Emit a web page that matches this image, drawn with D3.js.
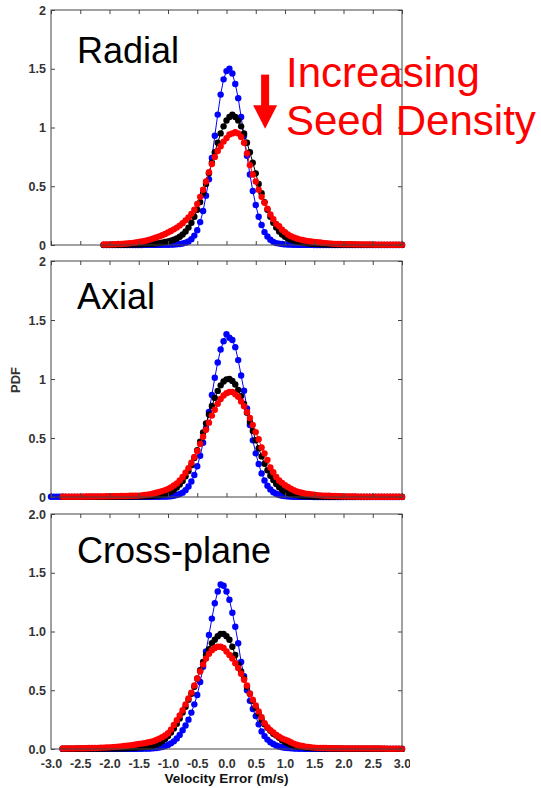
<!DOCTYPE html>
<html><head><meta charset="utf-8">
<script src="https://cdn.jsdelivr.net/npm/d3@7"></script>
<style>body{margin:0;background:#fff} svg{display:block}</style>
</head><body>
<svg id="chart" width="541" height="788"></svg>
<script>
// ---------- DATA ----------
const velocityBins = [
-3.00,-2.95,-2.90,-2.85,-2.80,-2.75,-2.70,-2.65,-2.60,-2.55,
-2.50,-2.45,-2.40,-2.35,-2.30,-2.25,-2.20,-2.15,-2.10,-2.05,
-2.00,-1.95,-1.90,-1.85,-1.80,-1.75,-1.70,-1.65,-1.60,-1.55,
-1.50,-1.45,-1.40,-1.35,-1.30,-1.25,-1.20,-1.15,-1.10,-1.05,
-1.00,-0.95,-0.90,-0.85,-0.80,-0.75,-0.70,-0.65,-0.60,-0.55,
-0.50,-0.45,-0.40,-0.35,-0.30,-0.25,-0.20,-0.15,-0.10,-0.05,
0.00,0.05,0.10,0.15,0.20,0.25,0.30,0.35,0.40,0.45,
0.50,0.55,0.60,0.65,0.70,0.75,0.80,0.85,0.90,0.95,
1.00,1.05,1.10,1.15,1.20,1.25,1.30,1.35,1.40,1.45,
1.50,1.55,1.60,1.65,1.70,1.75,1.80,1.85,1.90,1.95,
2.00,2.05,2.10,2.15,2.20,2.25,2.30,2.35,2.40,2.45,
2.50,2.55,2.60,2.65,2.70,2.75,2.80,2.85,2.90,2.95,
3.00];

const xTickValues = [-3,-2.5,-2,-1.5,-1,-0.5,0,0.5,1,1.5,2,2.5,3];
const xTickLabels = ["-3.0","-2.5","-2.0","-1.5","-1.0","-0.5","0.0","0.5","1.0","1.5","2.0","2.5","3.0"];
const yTickValues = [0,0.5,1,1.5,2];
const yTickLabelsShort = ["0","0.5","1","1.5","2"];
const yTickLabelsFixed = ["0.0","0.5","1.0","1.5","2.0"];
const panelTitles = ["Radial","Axial","Cross-plane"];
const yAxisTitle = "PDF";
const xAxisTitle = "Velocity Error (m/s)";
const annotationLines = ["Increasing","Seed Density"];

// Radial
const radialBlue = [
null,null,null,null,null,null,null,null,null,null,
null,null,null,null,null,null,null,null,0,0,
0,0,0,0,0,0,0,0,0,0,
0,0,0.001,0.001,0.001,0.001,0.001,0.001,0.002,0.002,
0.002,0.003,0.004,0.006,0.009,0.013,0.02,0.03,0.05,0.08,
0.125,0.195,0.29,0.42,0.56,0.74,0.93,1.11,1.28,1.41,
1.48,1.50,1.46,1.37,1.25,1.09,0.93,0.76,0.60,0.46,
0.34,0.24,0.17,0.11,0.072,0.045,0.027,0.016,0.012,0.008,
0.005,0.004,0.003,0.002,0.002,0.001,0.001,0.001,0.001,0.001,
0,0,0,0,0,0,0,0,0,0,
0,0,0,0,0,0,0,0,0,0,
0,0,0,0,0,0,0,0,0,0,
0];
const radialBlack = [
null,null,null,null,null,null,null,null,null,null,
null,null,null,null,null,null,null,null,0.001,0.001,
0.001,0.001,0.001,0.002,0.002,0.002,0.003,0.003,0.004,0.004,
0.005,0.006,0.008,0.009,0.01,0.011,0.013,0.016,0.02,0.025,
0.03,0.037,0.045,0.055,0.07,0.09,0.115,0.148,0.19,0.24,
0.30,0.365,0.44,0.52,0.61,0.70,0.79,0.87,0.95,1.01,
1.06,1.09,1.11,1.09,1.06,1.01,0.95,0.87,0.79,0.70,
0.61,0.52,0.44,0.365,0.30,0.24,0.19,0.148,0.115,0.09,
0.07,0.055,0.045,0.037,0.03,0.025,0.02,0.016,0.013,0.011,
0.009,0.008,0.006,0.005,0.005,0.004,0.004,0.003,0.003,0.003,
0.002,0.002,0.002,0.002,0.002,0.002,0.001,0.001,0.001,0.001,
0.001,0.001,0.001,0.001,0.001,0.001,0.001,0.001,0.001,0.001,
0.001];
const radialRed = [
null,null,null,null,null,null,null,null,null,null,
null,null,null,null,null,null,null,null,0.004,0.004,
0.005,0.006,0.007,0.008,0.009,0.011,0.013,0.015,0.018,0.022,
0.026,0.03,0.035,0.041,0.048,0.056,0.064,0.073,0.083,0.094,
0.106,0.119,0.133,0.148,0.165,0.185,0.21,0.235,0.265,0.30,
0.35,0.41,0.47,0.54,0.62,0.69,0.75,0.80,0.84,0.88,
0.91,0.94,0.95,0.96,0.95,0.92,0.87,0.78,0.68,0.60,
0.54,0.47,0.41,0.36,0.31,0.26,0.22,0.18,0.16,0.13,
0.11,0.09,0.075,0.065,0.055,0.048,0.042,0.037,0.033,0.03,
0.027,0.024,0.021,0.018,0.016,0.014,0.012,0.010,0.009,0.008,
0.007,0.007,0.006,0.006,0.005,0.005,0.005,0.004,0.004,0.004,
0.004,0.003,0.003,0.003,0.003,0.003,0.002,0.002,0.002,0.002,
0.002];

// Axial
const axialBlue = [
0.002,0.002,0.002,0.002,0.002,0.001,0.001,0.001,0.001,0.001,
0.001,0.001,0.001,0.001,0.001,0.001,0.001,0.001,0.001,0.001,
0.001,0.001,0.001,0.001,0.001,0.001,0.001,0.001,0.001,0.001,
0.001,0.001,0.001,0.001,0.001,0.002,0.002,0.002,0.003,0.003,
0.004,0.006,0.01,0.016,0.025,0.037,0.058,0.089,0.131,0.187,
0.26,0.35,0.46,0.585,0.72,0.865,1.01,1.14,1.25,1.32,
1.38,1.35,1.33,1.27,1.16,1.03,0.90,0.75,0.61,0.48,
0.37,0.28,0.20,0.14,0.095,0.064,0.04,0.027,0.017,0.011,
0.007,0.005,0.003,0.002,0.002,0.001,0.001,0.001,0.001,0.001,
0,0,0,0,0,0,0,0,0,0,
0,0,0,0,0,0,0,0,0,0,
0,0,0,0,0,0,0,0,0,0,
0];
const axialBlack = [
null,null,null,null,0.001,0.001,0.001,0.001,0.001,0.001,
0.001,0.001,0.001,0.001,0.001,0.001,0.001,0.001,0.001,0.001,
0.002,0.002,0.002,0.002,0.002,0.003,0.003,0.003,0.004,0.004,
0.005,0.005,0.006,0.007,0.008,0.01,0.012,0.015,0.02,0.025,
0.035,0.045,0.06,0.08,0.105,0.135,0.175,0.22,0.27,0.33,
0.397,0.469,0.546,0.624,0.699,0.772,0.84,0.899,0.946,0.979,
0.997,1.0,0.984,0.954,0.908,0.855,0.788,0.715,0.637,0.56,
0.481,0.413,0.344,0.282,0.227,0.18,0.144,0.11,0.083,0.062,
0.045,0.035,0.027,0.021,0.016,0.012,0.009,0.007,0.006,0.005,
0.004,0.004,0.003,0.003,0.003,0.002,0.002,0.002,0.002,0.002,
0.001,0.001,0.001,0.001,0.001,0.001,0.001,0.001,0.001,0.001,
0.001,0.001,0.001,0.001,0.001,0.001,0.001,0.001,0.001,0.001,
0.001];
const axialRed = [
null,null,null,null,0.003,0.003,0.003,0.003,0.003,0.003,
0.003,0.003,0.004,0.004,0.004,0.004,0.005,0.005,0.005,0.006,
0.006,0.006,0.007,0.007,0.008,0.008,0.009,0.010,0.011,0.011,
0.012,0.014,0.017,0.02,0.024,0.03,0.036,0.042,0.05,0.058,
0.068,0.08,0.097,0.115,0.14,0.17,0.205,0.245,0.29,0.34,
0.39,0.45,0.51,0.57,0.63,0.69,0.74,0.79,0.83,0.86,
0.88,0.89,0.89,0.87,0.85,0.81,0.77,0.72,0.67,0.61,
0.55,0.49,0.42,0.37,0.315,0.25,0.21,0.17,0.14,0.12,
0.10,0.085,0.07,0.057,0.047,0.04,0.034,0.029,0.025,0.022,
0.019,0.016,0.014,0.012,0.011,0.01,0.009,0.008,0.007,0.006,
0.005,0.005,0.004,0.004,0.004,0.003,0.003,0.003,0.003,0.003,
0.002,0.002,0.002,0.002,0.002,0.002,0.002,0.002,0.002,0.002,
0.002];

// Cross-plane
const crossBlue = [
null,null,null,null,0.001,0.001,0.001,0.001,0.001,0.001,
0.001,0.001,0.001,0.001,0.001,0.001,0.001,0.001,0.001,0.001,
0.001,0.001,0.001,0.001,0.001,0.001,0.001,0.001,0.001,0.001,
0.002,0.002,0.003,0.003,0.004,0.006,0.008,0.012,0.017,0.025,
0.035,0.048,0.065,0.09,0.12,0.16,0.20,0.25,0.31,0.38,
0.46,0.57,0.70,0.83,0.97,1.11,1.24,1.34,1.40,1.39,
1.34,1.27,1.16,1.04,0.90,0.74,0.62,0.50,0.41,0.34,
0.28,0.21,0.15,0.11,0.08,0.058,0.042,0.03,0.021,0.015,
0.011,0.008,0.006,0.004,0.003,0.002,0.002,0.001,0.001,0.001,
0.001,0.001,0.001,0.001,0.001,0.001,0.001,0.001,0.001,0.001,
0.001,0.001,0.001,0.001,0.001,0.001,0.001,0.001,0.001,0.001,
0.001,0.001,0.001,0.001,0.001,0.001,0.001,0.001,0.001,0.001,
0.001];
const crossBlack = [
null,null,null,null,0.002,0.002,0.002,0.002,0.002,0.002,
0.002,0.002,0.002,0.003,0.003,0.003,0.003,0.003,0.004,0.004,
0.004,0.004,0.005,0.005,0.006,0.006,0.007,0.008,0.009,0.01,
0.012,0.014,0.017,0.02,0.024,0.03,0.038,0.05,0.065,0.085,
0.11,0.14,0.175,0.215,0.26,0.31,0.36,0.42,0.47,0.53,
0.60,0.67,0.74,0.80,0.85,0.90,0.93,0.96,0.98,0.98,
0.96,0.93,0.87,0.80,0.72,0.66,0.60,0.53,0.47,0.41,
0.35,0.30,0.25,0.21,0.18,0.155,0.13,0.115,0.095,0.075,
0.06,0.047,0.037,0.03,0.024,0.02,0.016,0.013,0.01,0.008,
0.007,0.006,0.005,0.005,0.004,0.004,0.003,0.003,0.003,0.003,
0.002,0.002,0.002,0.002,0.002,0.002,0.002,0.002,0.002,0.002,
0.002,0.002,0.002,0.001,0.001,0.001,0.001,0.001,0.001,0.001,
0.001];
const crossRed = [
null,null,null,null,0.004,0.004,0.005,0.005,0.005,0.006,
0.006,0.006,0.007,0.008,0.008,0.009,0.010,0.011,0.012,0.013,
0.014,0.016,0.018,0.02,0.022,0.025,0.028,0.031,0.034,0.038,
0.042,0.046,0.05,0.055,0.06,0.067,0.077,0.088,0.10,0.115,
0.135,0.165,0.205,0.245,0.285,0.33,0.38,0.43,0.48,0.54,
0.60,0.66,0.72,0.77,0.81,0.84,0.86,0.87,0.87,0.86,
0.83,0.80,0.77,0.73,0.69,0.64,0.59,0.54,0.47,0.42,
0.37,0.32,0.27,0.22,0.185,0.16,0.14,0.12,0.105,0.09,
0.08,0.07,0.058,0.046,0.036,0.03,0.025,0.02,0.017,0.014,
0.012,0.01,0.009,0.008,0.008,0.007,0.007,0.006,0.006,0.006,
0.005,0.005,0.005,0.005,0.005,0.005,0.005,0.005,0.005,0.005,
0.004,0.004,0.004,0.004,0.004,0.003,0.003,0.003,0.003,0.003,
0.003];

// ---------- LAYOUT ----------
const svg = d3.select("#chart");
const FONT = "'Liberation Sans', Arial, Helvetica, sans-serif";
const left = 51, right = 402;
const panels = [
  {top: 10,  bottom: 245, title: panelTitles[0], titleY: 63,  labels: yTickLabelsShort, series: [radialBlue, radialBlack, radialRed]},
  {top: 261, bottom: 497, title: panelTitles[1], titleY: 309, labels: yTickLabelsShort, series: [axialBlue, axialBlack, axialRed]},
  {top: 514, bottom: 749, title: panelTitles[2], titleY: 563, labels: yTickLabelsFixed, series: [crossBlue, crossBlack, crossRed]}
];
const colors = ["#0000ff", "#000000", "#ff0000"];
const axisColor = "#444";
const x = d3.scaleLinear().domain([-3, 3]).range([left, right]);

svg.append("defs").append("clipPath").attr("id","xlabclip")
  .append("rect").attr("x", 0).attr("y", 0).attr("width", 410).attr("height", 788);

panels.forEach((p, pi) => {
  const y = d3.scaleLinear().domain([0, 2]).range([p.bottom, p.top]);
  const g = svg.append("g");

  // series
  p.series.forEach((vals, si) => {
    const pts = velocityBins.map((v, i) => ({v, p: vals[i]})).filter(d => d.p !== null && d.p !== undefined);
    const line = d3.line().x(d => x(d.v)).y(d => y(d.p));
    g.append("path").datum(pts)
      .attr("d", line).attr("fill", "none")
      .attr("stroke", colors[si]).attr("stroke-width", 1);
    g.selectAll(null).data(pts).enter().append("circle")
      .attr("cx", d => x(d.v)).attr("cy", d => y(d.p))
      .attr("r", 3.2).attr("fill", colors[si]);
  });

  // frame
  g.append("rect").attr("x", left).attr("y", p.top)
    .attr("width", right - left).attr("height", p.bottom - p.top)
    .attr("fill", "none").attr("stroke", axisColor).attr("stroke-width", 1);

  const styleAxis = sel => {
    sel.select(".domain").remove();
    sel.selectAll(".tick line").attr("stroke", axisColor);
    sel.selectAll(".tick text").attr("fill", "#333")
      .style("font-family", FONT).style("font-size", "12.5px").style("font-weight", "bold");
  };

  g.append("g").attr("transform", `translate(${left},0)`)
    .call(d3.axisLeft(y).tickValues(yTickValues).tickSize(-4).tickPadding(5)
      .tickFormat((d, i) => p.labels[i]))
    .call(styleAxis);
  g.append("g").attr("transform", `translate(${right},0)`)
    .call(d3.axisRight(y).tickValues(yTickValues).tickSize(-4).tickFormat(""))
    .call(styleAxis);
  g.append("g").attr("transform", `translate(0,${p.top})`)
    .call(d3.axisTop(x).tickValues(xTickValues).tickSize(-4).tickFormat(""))
    .call(styleAxis);
  const isLast = pi === panels.length - 1;
  g.append("g").attr("transform", `translate(0,${p.bottom})`)
    .attr("clip-path", isLast ? "url(#xlabclip)" : null)
    .call(d3.axisBottom(x).tickValues(xTickValues).tickSize(-4).tickPadding(10)
      .tickFormat((d, i) => isLast ? xTickLabels[i] : ""))
    .call(styleAxis);

  // title
  g.append("text").attr("x", 77).attr("y", p.titleY)
    .style("font-family", FONT).style("font-size", "36px").attr("fill", "#000")
    .text(p.title);

  // annotation in top panel
  if (pi === 0) {
    const ax = x(0.66);
    const shaftTop = y(1.45), headBase = y(1.19), tip = y(0.99);
    g.append("rect").attr("x", ax - 4).attr("y", shaftTop)
      .attr("width", 8).attr("height", headBase - shaftTop + 1).attr("fill", "#ff0000");
    g.append("path")
      .attr("d", `M${ax - 12},${headBase} L${ax + 12},${headBase} L${ax},${tip} Z`)
      .attr("fill", "#ff0000");
    annotationLines.forEach((t, i) => {
      g.append("text").attr("x", 286).attr("y", 87 + i * 48)
        .style("font-family", FONT).style("font-size", "42px").attr("fill", "#ff0000")
        .text(t);
    });
  }
});

// axis titles
svg.append("text").attr("transform", "translate(20,380) rotate(-90)")
  .attr("text-anchor", "middle").attr("fill", "#333")
  .style("font-family", FONT).style("font-size", "13px").style("font-weight", "bold")
  .text(yAxisTitle);
svg.append("text").attr("x", (left + right) / 2).attr("y", 783)
  .attr("text-anchor", "middle").attr("fill", "#111")
  .style("font-family", FONT).style("font-size", "13.5px").style("font-weight", "bold")
  .text(xAxisTitle);
</script>
</body></html>
